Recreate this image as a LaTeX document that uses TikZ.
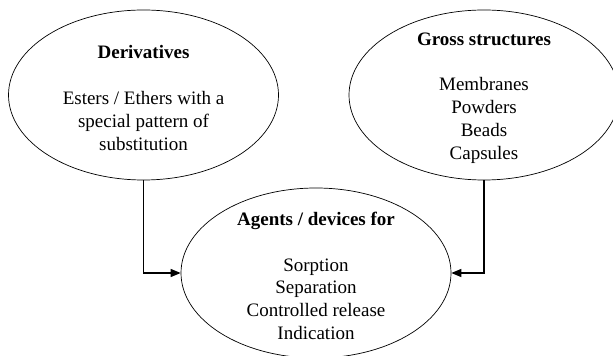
\documentclass[tikz,border=0pt]{standalone}
\usepackage{fontspec}
\setmainfont{Liberation Serif}
\usetikzlibrary{arrows.meta,shapes.geometric}
\tikzset{
  >={Triangle[length=10pt,width=8pt]},
  oval/.style={ellipse,draw=black,line width=0.7pt,minimum width=270pt,
    minimum height=170pt,inner sep=0pt},
  ovaltext/.style={align=center,inner sep=0pt,
    font=\fontsize{19}{22.8}\selectfont},
  flow/.style={->,line width=1.3pt},
}
\begin{document}
\begin{tikzpicture}[x=1pt,y=1pt]
  \useasboundingbox (0,0) rectangle (613,356);
  \clip (0,0) rectangle (613,356);
  \node[oval] (der) at (143.5,261) {};
  \node[oval] (gross) at (484,261) {};
  \node[oval] (agents) at (316,83) {};
  % texts
  \node[ovaltext] (dertxt) at ([yshift=-3pt]der.center) {\textbf{Derivatives}\\[22.8pt]
    Esters / Ethers with a\\ special pattern of\\ substitution};
  \node[ovaltext] (grosstxt) at ([yshift=-3pt]gross.center) {\textbf{Gross structures}\\[22.8pt]
    Membranes\\ Powders\\ Beads\\ Capsules};
  \node[ovaltext] (agentstxt) at ([yshift=-3pt]agents.center) {\textbf{Agents / devices for}\\[22.8pt]
    Sorption\\ Separation\\ Controlled release\\ Indication};
  \draw[flow] (der) |- (agents);
  \draw[flow] (gross) |- (agents);
\end{tikzpicture}
\end{document}
